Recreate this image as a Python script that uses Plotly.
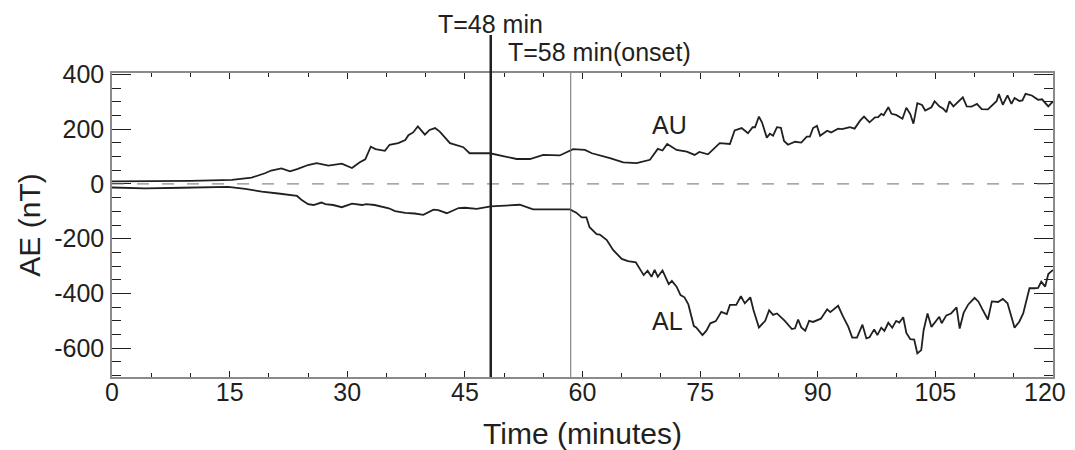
import plotly.graph_objects as go

# AU index (nT)
au_time = [0, 5, 10, 15.3, 17.8, 19.5, 20.3, 21.6, 22.7, 23.7, 25.0, 26.1, 27.6, 29.3, 30.6,
           31.6, 32.3, 33.0, 33.6, 34.8, 35.4, 36.5, 37.4, 37.8, 38.4, 39.0, 39.9, 40.5,
           41.2, 41.8, 43.1, 44.8, 45.6, 48.2, 51.6, 53.3, 55.0, 57.1, 58.8, 60.3, 61.2,
           63.5, 65.2, 66.9, 68.6, 69.6, 70.2, 70.8, 72.0, 73.3, 74.3, 74.9, 76.0, 77.5,
           78.8, 79.4, 80.3, 81.1, 81.7, 82.0, 82.5, 82.9, 83.5, 83.9, 84.3, 84.8, 85.3,
           85.7, 86.2, 87.1, 87.9, 88.6, 89.0, 89.4, 89.9, 90.3, 91.2, 91.7, 92.6, 93.1,
           94.1, 94.7, 95.4, 95.9, 96.6, 97.3, 97.7, 98.1, 98.4, 99.0, 99.4, 100.0, 100.8,
           101.3, 101.8, 102.2, 102.7, 103.3, 103.7, 104.5, 104.9, 105.5, 106.0, 106.4,
           106.8, 107.3, 108.5, 109.0, 109.6, 110.3, 110.9, 111.7, 112.4, 112.8, 113.1,
           113.6, 114.2, 114.7, 115.1, 115.7, 116.1, 116.5, 117.3, 118.1, 118.6, 119.4, 120.0]
au_vals = [9, 10, 11, 15, 23, 39, 49, 57, 46, 55, 69, 76, 67, 74, 58,
           79, 90, 136, 127, 121, 143, 149, 160, 178, 188, 210, 180, 197,
           204, 191, 149, 134, 112, 112, 91, 91, 106, 104, 127, 124, 112,
           94, 79, 76, 88, 128, 122, 146, 124, 118, 106, 117, 108, 149,
           146, 195, 204, 185, 207, 207, 246, 224, 169, 183, 176, 207, 205,
           157, 143, 154, 151, 173, 173, 204, 212, 176, 194, 188, 202, 200,
           207, 202, 231, 246, 225, 243, 244, 256, 251, 280, 256, 252, 238,
           278, 255, 220, 295, 288, 268, 280, 302, 283, 275, 262,
           302, 283, 316, 283, 282, 292, 273, 272, 292, 302, 328,
           289, 323, 292, 314, 303, 305, 329, 323, 307, 309, 283, 301]

# AL index (nT)
al_time = [0, 4.2, 9, 14.8, 17.0, 19.1, 21.2, 23.6, 24.2, 25.0, 25.7, 26.7, 27.2, 28.2,
           29.3, 30.6, 31.9, 32.4, 33.5, 35.3, 36.1, 37.4, 38.6, 39.7, 41.0, 41.6, 42.7,
           44.2, 45.0, 46.5, 48.3, 51.0, 52.0, 53.7, 58.4, 59.2, 59.9, 60.5, 60.9, 61.8,
           62.2, 63.1, 63.9, 65.0, 65.8, 66.8, 67.8, 68.3, 68.8, 69.2, 69.6, 70.2, 71.0,
           71.4, 72.0, 72.5, 73.0, 73.5, 74.2, 74.5, 75.3, 75.8, 76.3, 77.0, 77.7, 78.4,
           78.8, 79.6, 80.2, 80.7, 81.4, 81.8, 82.5, 83.3, 83.8, 84.3, 84.8, 85.8, 86.7,
           87.1, 87.5, 87.9, 88.4, 88.9, 89.4, 90.4, 91.2, 91.6, 92.6, 93.2, 93.9, 94.4,
           95.0, 95.7, 96.2, 96.6, 97.2, 97.6, 98.1, 98.5, 99.0, 99.5, 100.0, 100.4,
           100.9, 101.3, 101.8, 102.3, 102.7, 103.2, 103.5, 104.0, 104.5, 105.5, 105.8,
           106.4, 107.0, 107.7, 108.1, 108.6, 109.2, 110.0, 110.5, 111.0, 111.7, 112.2,
           113.0, 113.6, 114.2, 115.1, 115.7, 116.2, 117.0, 117.6, 118.1, 118.5, 119.0,
           119.4, 120.0]
al_vals = [-13, -16, -14, -11, -18, -28, -35, -44, -59, -74, -77, -68, -74, -77,
           -85, -72, -77, -74, -77, -89, -99, -106, -108, -113, -94, -96, -107,
           -88, -87, -91, -82, -78, -76, -93, -93, -105, -122, -122, -158, -183,
           -185, -205, -241, -274, -282, -286, -333, -317, -339, -314, -339, -316, -366,
           -354, -375, -406, -414, -440, -519, -524, -552, -536, -509, -501, -467, -475,
           -442, -442, -410, -436, -414, -460, -524, -500, -461, -478, -473, -500, -530,
           -527, -495, -524, -536, -500, -504, -492, -458, -468, -445, -483, -522, -561,
           -561, -514, -564, -560, -531, -552, -525, -537, -507, -525, -500, -506,
           -487, -544, -567, -568, -619, -607, -534, -473, -522, -485, -509,
           -480, -473, -451, -528, -471, -440, -416, -430, -458, -495, -429,
           -431, -420, -436, -525, -503, -473, -381, -381, -380, -357, -375,
           -329, -314]

event_times = [48.3, 58.5]
event_labels = ['T=48 min', 'T=58 min(onset)']

x_ticks = [0, 15, 30, 45, 60, 75, 90, 105, 120]
y_ticks = [-600, -400, -200, 0, 200, 400]
y_ticktext = ['-600', '-400', '-200', '0', '200', '400']   # plain hyphen, not unicode minus

FONT = 'Liberation Sans, Arial, sans-serif'
INK = '#231f20'

# last x label would be clipped at the page edge; it is drawn as an annotation nudged left
x_ticktext = [str(t) for t in x_ticks[:-1]] + ['']

fig = go.Figure()
fig.add_trace(go.Scatter(x=au_time, y=au_vals, mode='lines', name='AU',
                         line=dict(color=INK, width=1.8), showlegend=False))
fig.add_trace(go.Scatter(x=al_time, y=al_vals, mode='lines', name='AL',
                         line=dict(color=INK, width=1.8), showlegend=False))

shapes = [
    # zero reference
    dict(type='line', xref='x', yref='y', x0=0, x1=120, y0=0, y1=0,
         line=dict(color='#6d6d6d', width=1, dash='12px,13px')),
    # T=48 marker, sticks out above the frame
    dict(type='line', xref='x', yref='paper', x0=event_times[0], x1=event_times[0],
         y0=0, y1=1.125, line=dict(color=INK, width=2.5)),
    # onset marker
    dict(type='line', xref='x', yref='paper', x0=event_times[1], x1=event_times[1],
         y0=0, y1=1, line=dict(color='#6d6d6d', width=1)),
]

annotations = [
    dict(xref='x', yref='paper', x=event_times[0], y=1.213, text=event_labels[0],
         xanchor='center', yanchor='top', showarrow=False),
    dict(xref='x', yref='paper', x=50.2, y=1.069, text=event_labels[1],
         xanchor='left', yanchor='middle', showarrow=False),
    dict(xref='x', yref='y', x=68.6, y=216, text='AU',
         xanchor='left', yanchor='middle', showarrow=False),
    dict(xref='x', yref='y', x=68.6, y=-501, text='AL',
         xanchor='left', yanchor='middle', showarrow=False),
    dict(xref='x', yref='paper', x=x_ticks[-1], y=0, text=str(x_ticks[-1]),
         xanchor='center', yanchor='middle', xshift=-8, yshift=-15, showarrow=False),
]

# page body has an 8px margin; plot box lands at x 112..1053, y 73..377 of the window
fig.update_layout(
    width=1059, height=442,
    margin=dict(l=104, r=14, t=65, b=73),
    paper_bgcolor='white', plot_bgcolor='white',
    font=dict(family=FONT, size=25, color=INK),
    shapes=shapes,
    annotations=annotations,
    xaxis=dict(
        range=[0, 120], tickvals=x_ticks, ticktext=x_ticktext, ticks='inside', ticklen=6,
        tickwidth=1.2,
        tickcolor=INK, showline=True, linecolor='#8a8a8a', linewidth=1.5, mirror='allticks',
        showgrid=False, zeroline=False, automargin=False,
        minor=dict(dtick=5, ticks='inside', ticklen=4, tickcolor=INK, showgrid=False),
        title=dict(text='Time (minutes)', standoff=36),
        ticklabelstandoff=-8,
    ),
    yaxis=dict(
        range=[-705, 405], tickvals=y_ticks, ticktext=y_ticktext, ticks='inside',
        ticklen=19, tickwidth=1.2,
        tickcolor=INK, showline=True, linecolor='#8a8a8a', linewidth=1.5, mirror='allticks',
        showgrid=False, zeroline=False, automargin=False,
        minor=dict(dtick=50, ticks='inside', ticklen=9, tickcolor=INK, showgrid=False),
        title=dict(text='AE (nT)', standoff=5),
        ticklabelstandoff=1,
    ),
)

fig.write_html("out.html")
